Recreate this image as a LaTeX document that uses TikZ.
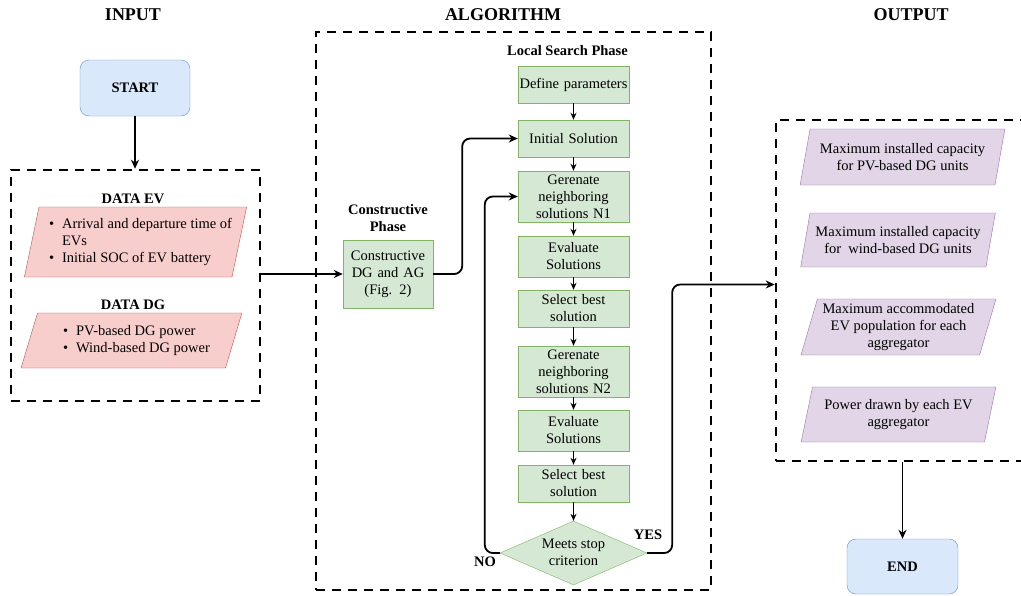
\documentclass[tikz,border=0pt]{standalone}
\usepackage{fontspec}
\setmainfont{Liberation Serif}
\usetikzlibrary{arrows.meta, positioning, shapes.geometric, calc}
\definecolor{termfill}{HTML}{DAE8FC}
\definecolor{termline}{HTML}{6C8EBF}
\definecolor{infill}{HTML}{F8CECC}
\definecolor{inline}{HTML}{B85450}
\definecolor{algfill}{HTML}{D5E8D4}
\definecolor{algline}{HTML}{82B366}
\definecolor{outfill}{HTML}{E1D5E7}
\definecolor{outline}{HTML}{9673A6}

\begin{document}
\begin{tikzpicture}[x=1pt,y=-1pt,
    txtbase/.style={font=\fontsize{14.5}{17}\selectfont,align=center,inner sep=0pt},
    headtitle/.style={font=\fontsize{18}{20}\selectfont\bfseries},
    phaselbl/.style={font=\fontsize{14.5}{17}\selectfont\bfseries,align=center,inner sep=0pt},
    termbox/.style={txtbase,draw=termline,fill=termfill,rounded corners=9pt,
                    minimum width=110pt,minimum height=56pt,
                    font=\fontsize{14.5}{17}\selectfont\bfseries},
    stepbox/.style={txtbase,draw=algline,fill=algfill,minimum width=111pt,text width=109pt},
    decision/.style={txtbase,diamond,aspect=2.3,draw=algline,fill=algfill,
                     minimum width=147pt,minimum height=64pt},
    databox/.style={txtbase,trapezium,trapezium stretches=true,
                    trapezium left angle=#1,trapezium right angle=180-#1},
    zonebox/.style={draw,line width=2.5pt,dash pattern=on 9pt off 7pt,inner sep=0pt},
    arr/.style={-{Stealth[length=9pt,width=8pt]},line width=1.8pt},
    sarr/.style={-{Stealth[length=7pt,width=6pt]},line width=1.2pt}
]
  \useasboundingbox (0,0) rectangle (1021,595);

  % Column titles
  \node[headtitle] (ttlin) at (133,15) {INPUT};
  \node[headtitle] (ttlalg) at (503,15) {ALGORITHM};
  \node[headtitle] (ttlout) at (911,15) {OUTPUT};

  % Dashed zones
  \node[zonebox,minimum width=249pt,minimum height=231pt] (inzone) at (135.5,285.5) {};
  \node[zonebox,minimum width=395pt,minimum height=558pt] (algzone) at (513.5,311) {};
  \node[zonebox,minimum width=252pt,minimum height=341pt] (outzone) at (902,290.5) {};

  % Terminals
  \node[termbox] (start) at (135,88) {START};
  \node[termbox,minimum width=111pt,minimum height=55pt] (finish) at (902.5,566.5) {END};

  % Input data
  \node[phaselbl] (evlbl) at (133,199) {DATA EV};
  \node[databox=74,fill=infill,draw=inline,minimum width=221pt,minimum height=70pt] (evdata) at (135.5,242)
    {\hspace*{10pt}\begin{tabular}{@{}c@{\hspace{8pt}}l@{}}
       \textbullet & Arrival and departure time of\\
                   & EVs\\
       \textbullet & Initial SOC of EV battery
     \end{tabular}};
  \node[phaselbl] (dglbl) at (133,305) {DATA DG};
  \node[databox=68,fill=infill,draw=inline,minimum width=221pt,minimum height=55pt] (dgdata) at (131.5,340.5)
    {\hspace*{10pt}\begin{tabular}{@{}c@{\hspace{8pt}}l@{}}
       \textbullet & PV-based DG power\\
       \textbullet & Wind-based DG power
     \end{tabular}};

  % Constructive phase
  \node[phaselbl] (cplbl) at (388,218) {Constructive\\Phase};
  \node[stepbox,minimum width=90pt,text width=88pt,minimum height=68pt] (constr) at (388,274)
    {Constructive\\DG and AG\\(Fig. 2)};

  % Local search phase
  \node[phaselbl] (lslbl) at (567.5,51) {Local Search Phase};
  \node[stepbox,minimum height=37pt] (defpar) at (573.5,84.5) {Define parameters};
  \node[stepbox,minimum height=37pt] (initsol) at (573.5,138.5) {Initial Solution};
  \node[stepbox,minimum height=51pt] (gen1) at (573.5,196.5) {Gerenate\\neighboring\\solutions N1};
  \node[stepbox,minimum height=41pt] (eval1) at (573.5,256.5) {Evaluate\\Solutions};
  \node[stepbox,minimum height=37pt] (sel1) at (573.5,308.5) {Select best\\solution};
  \node[stepbox,minimum height=51pt] (gen2) at (573.5,371.5) {Gerenate\\neighboring\\solutions N2};
  \node[stepbox,minimum height=41pt] (eval2) at (573.5,430.5) {Evaluate\\Solutions};
  \node[stepbox,minimum height=37pt] (sel2) at (573.5,483.5) {Select best\\solution};
  \node[decision] (stopchk) at (573.5,553) {\\[-8pt]Meets stop\\criterion};
  \node[phaselbl] (nolbl) at (485,562) {NO};
  \node[phaselbl] (yeslbl) at (648,535) {YES};

  % Output data
  \node[databox=72,fill=outfill,draw=outline,minimum width=205pt,minimum height=56pt] (outpv) at (902.5,157)
    {Maximum installed capacity\\for PV-based DG units};
  \node[databox=72,fill=outfill,draw=outline,minimum width=195pt,minimum height=54pt] (outwind) at (898,240)
    {Maximum installed capacity\\for~ wind-based DG units};
  \node[databox=72,fill=outfill,draw=outline,minimum width=195pt,minimum height=56pt] (outev) at (898.5,327)
    {Maximum accommodated\\EV population for each\\aggregator};
  \node[databox=72,fill=outfill,draw=outline,minimum width=195pt,minimum height=55pt] (outpow) at (898.5,414.5)
    {Power drawn by each EV\\aggregator};

  % Connectors
  \draw[arr] (start.south) -- (start.south |- inzone.north);
  \draw[arr] (inzone.east |- constr.west) -- (constr.west);
  \draw[arr,rounded corners=8pt] (constr.east) -- ++(29,0) |- (initsol.west);
  \foreach \a/\b in {defpar/initsol, initsol/gen1, gen1/eval1, eval1/sel1,
                     sel1/gen2, gen2/eval2, eval2/sel2, sel2/stopchk}
    \draw[sarr] (\a) -- (\b);
  \draw[arr,rounded corners=8pt] (stopchk.west) -- ++(-15,0) |- (gen1.west);
  \draw[arr,rounded corners=8pt] (stopchk.east) -- ++(25,0) |- ([yshift=6pt]outzone.west);
  \draw[arr] (finish.north |- outzone.south) -- (finish.north);
\end{tikzpicture}
\end{document}
